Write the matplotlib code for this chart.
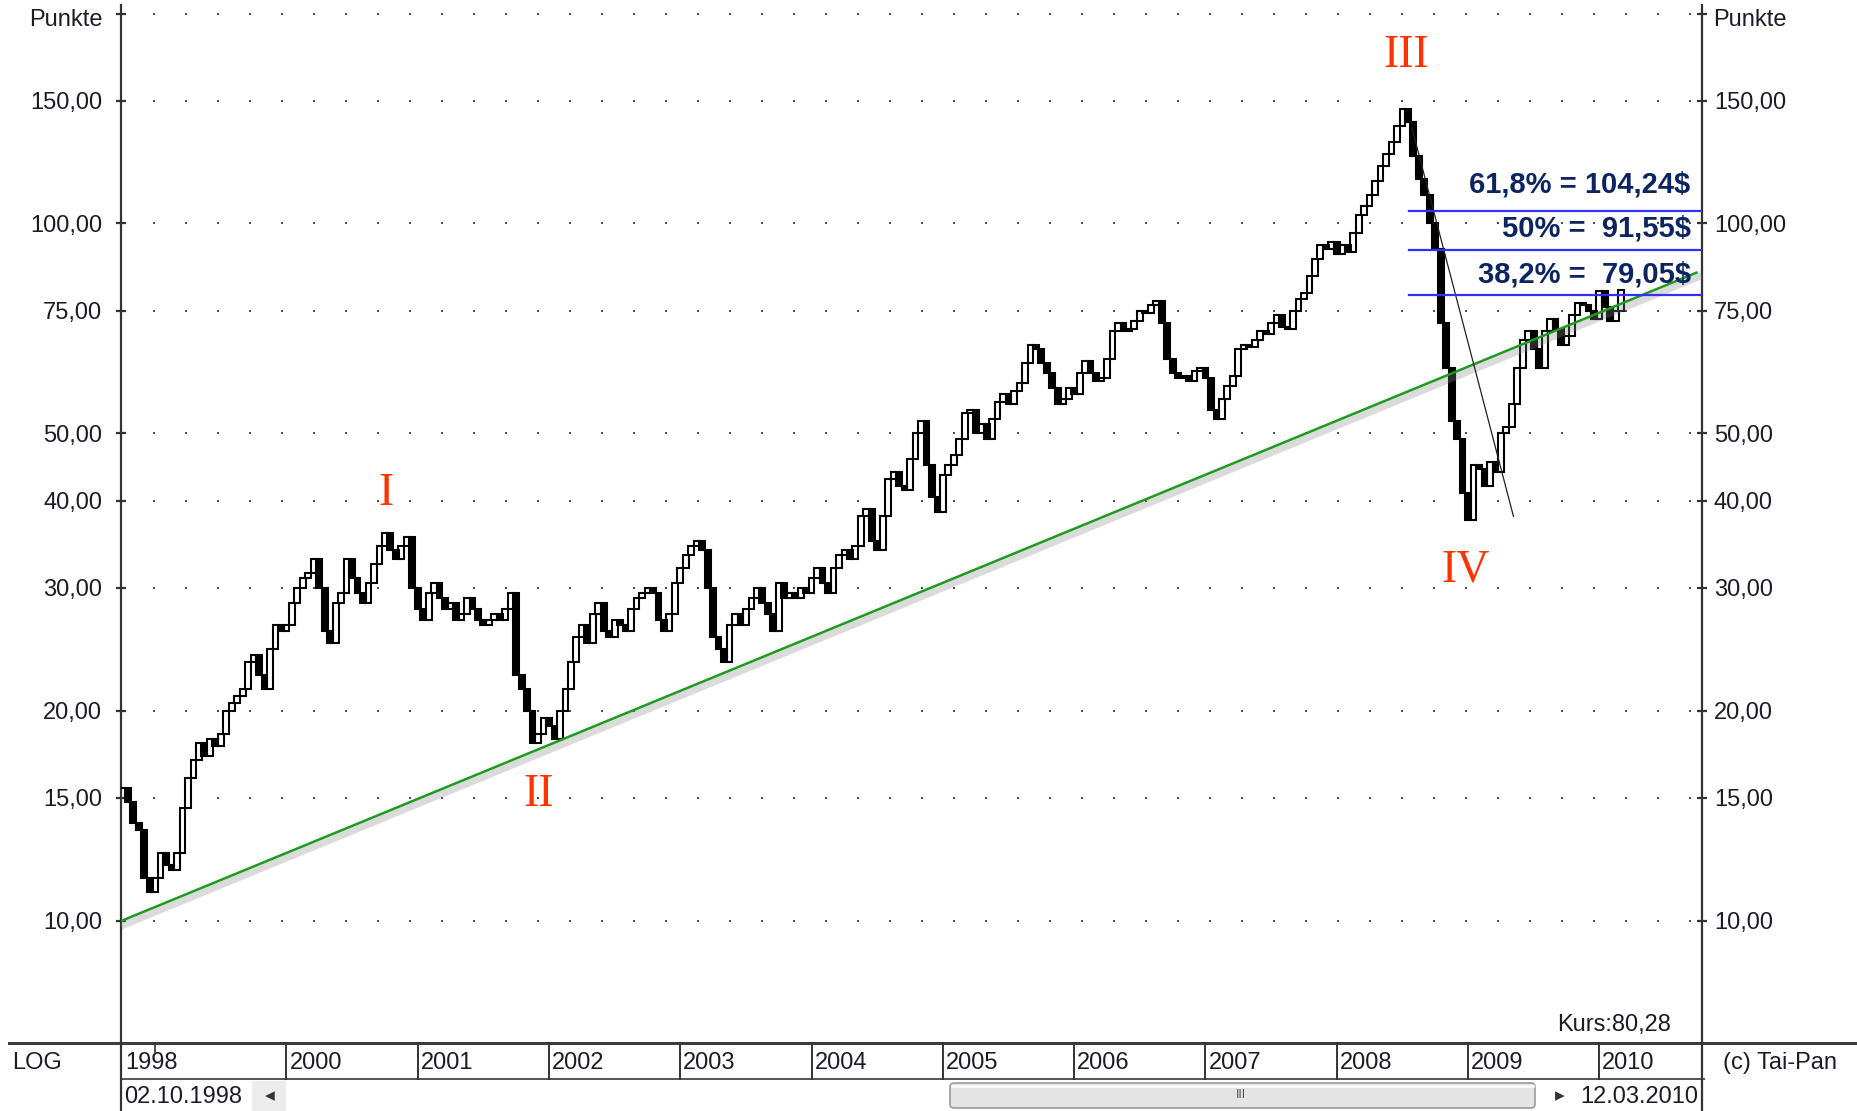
import numpy as np
import matplotlib
matplotlib.use('Agg')
import matplotlib.pyplot as plt
import matplotlib.patheffects as pe
from matplotlib import transforms
from matplotlib.patches import FancyBboxPatch, Rectangle
from matplotlib.ticker import NullLocator, NullFormatter

plt.rcParams['font.family'] = ['Liberation Sans', 'DejaVu Sans']
plt.rcParams['lines.scale_dashes'] = False

kurs_1998 = [15.5, 14.8, 13.8, 13.5, 11.5, 11.0]
kurs_1999 = [11.5, 12.5, 12.0, 11.8, 12.5, 14.5, 16.0, 17.0, 18.0, 17.2, 18.2, 17.8,
             18.5, 20.0, 20.5, 21.0, 21.5, 23.5, 24.0, 22.5, 21.5, 24.5, 26.5, 26.0]
kurs_2000 = [26.5, 28.5, 30.0, 31.0, 31.5, 33.0, 30.0, 26.0, 25.0, 28.5, 29.5, 33.0,
             31.0, 29.5, 28.5, 30.5, 32.5, 34.5, 36.0, 34.0, 33.0, 34.5, 35.5, 30.0]
kurs_2001 = [28.0, 27.0, 29.5, 30.5, 29.0, 28.0, 28.5, 27.0, 27.5, 29.0, 28.0, 27.0,
             26.5, 27.0, 27.5, 27.0, 28.0, 29.5, 22.5, 21.5, 20.0, 18.0, 18.5, 19.5]
kurs_2002 = [19.0, 18.2, 20.0, 21.5, 23.5, 25.5, 26.5, 25.0, 27.5, 28.5, 26.0, 25.5,
             27.0, 26.5, 26.0, 28.0, 29.0, 29.5, 30.0, 29.5, 27.0, 26.0, 27.5, 30.5]
kurs_2003 = [32.0, 33.5, 34.5, 35.0, 34.0, 30.0, 25.5, 24.5, 23.5, 26.5, 27.5, 26.5,
             28.0, 29.0, 30.0, 28.5, 27.5, 26.0, 30.5, 29.0, 29.5, 29.0, 30.0, 29.5]
kurs_2004 = [31.0, 32.0, 30.5, 29.5, 32.0, 33.5, 34.0, 33.0, 34.5, 38.0, 39.0, 35.0,
             34.0, 38.0, 43.0, 44.0, 42.0, 41.5, 46.0, 50.0, 52.0, 45.0, 40.5, 38.5]
kurs_2005 = [43.5, 45.0, 46.5, 49.0, 53.5, 54.0, 50.0, 51.5, 49.0, 52.5, 55.5, 57.0,
             55.0, 57.5, 59.0, 63.0, 67.0, 66.0, 63.0, 61.0, 58.0, 55.0, 56.0, 58.0]
kurs_2006 = [57.0, 61.0, 63.5, 61.0, 59.5, 60.0, 64.0, 70.0, 72.0, 70.0, 70.5, 72.5,
             75.0, 74.5, 76.5, 77.5, 72.0, 64.0, 61.0, 60.0, 60.5, 59.5, 61.5, 62.0]
kurs_2007 = [60.0, 54.0, 52.5, 56.0, 58.5, 60.5, 66.0, 67.0, 66.5, 68.0, 70.0, 69.5,
             72.0, 74.0, 71.0, 70.5, 75.0, 78.0, 79.5, 84.0, 89.0, 93.0, 92.0, 94.0]
kurs_2008 = [90.5, 93.0, 91.0, 97.0, 103.0, 106.0, 110.0, 115.0, 121.0, 126.0, 131.0, 138.0,
             146.0, 140.0, 125.0, 116.0, 110.0, 100.0, 92.0, 72.0, 62.0, 52.0, 49.0, 41.0]
kurs_2009 = [37.5, 45.0, 44.5, 42.0, 45.5, 44.0, 50.0, 51.0, 55.0, 62.0, 68.0, 70.0,
             66.0, 62.0, 70.0, 73.0, 70.5, 67.0, 69.0, 74.0, 77.0, 76.5, 75.0, 73.0]
kurs_2010 = [80.0, 76.0, 72.5, 75.0, 80.28]

start_jahr = 1998.75
y_ticks = [10, 15, 20, 30, 40, 50, 75, 100, 150, 200]
y_labels = ['10,00', '15,00', '20,00', '30,00', '40,00', '50,00', '75,00', '100,00', '150,00', '']

jahr_grenzen = [2000, 2001, 2002, 2003, 2004, 2005, 2006, 2007, 2008, 2009, 2010]
jahr_labels = ['1998', '2000', '2001', '2002', '2003', '2004', '2005', '2006', '2007', '2008', '2009', '2010']
jahr_label_pos = [1998.75] + jahr_grenzen

# Trendlinien / Fibonacci
trend_x = [1998.75, 2010.74]
trend_y = [10.0, 85.0]
abw_x = [2008.573, 2009.346]
abw_y = [137.0, 38.0]
fib_werte = [104.24, 91.55, 79.05]
fib_texte = ['61,8% = 104,24$', '50% =  91,55$', '38,2% =  79,05$']
fib_text_y = [110.8, 95.7, 82.4]
fib_start = 2008.547
wellen = ['I', 'II', 'III', 'IV']
wellen_x = [2000.76, 2001.92, 2008.53, 2008.98]
wellen_y = [40.9, 15.15, 174.2, 31.8]

closes = np.array(kurs_1998 + kurs_1999 + kurs_2000 + kurs_2001 + kurs_2002 + kurs_2003 +
                  kurs_2004 + kurs_2005 + kurs_2006 + kurs_2007 + kurs_2008 + kurs_2009 + kurs_2010)
opens = np.concatenate([[closes[0]], closes[:-1]])
x = start_jahr + np.arange(len(closes)) / 24.0

W, H = 1857, 1111
fig = plt.figure(figsize=(W / 100, H / 100), dpi=100)
fig.patch.set_facecolor('white')

ax = fig.add_axes([121 / W, 1 - 1043 / H, (1702 - 121) / W, (1043 - 5) / H])
ax.set_yscale('log')
ax.set_ylim(6.672, 205.8)
ax.set_xlim(1998.74, 2010.782)

# Kerzen
bw = 0.044
up = closes >= opens
ax.bar(x[up], (closes - opens)[up], bottom=opens[up], width=bw, facecolor='white',
       edgecolor='black', linewidth=1.5, zorder=3)
ax.bar(x[~up], (opens - closes)[~up], bottom=closes[~up], width=bw, facecolor='black',
       edgecolor='black', linewidth=1.5, zorder=3)

# gepunktetes Raster
for v in y_ticks:
    ax.axhline(v, color='#444444', lw=1.4, linestyle=(0, (1.4, 21.64)), zorder=1)

# Trendlinie mit Schatten
ax.plot(trend_x, trend_y, color='#1e9a1e', lw=1.8, zorder=4,
        path_effects=[pe.SimpleLineShadow(offset=(1.5, -3), shadow_color='#888888', alpha=0.3, linewidth=5),
                      pe.Normal()])
ax.plot(abw_x, abw_y, color='#222222', lw=0.9, zorder=4)

for v, t, ty in zip(fib_werte, fib_texte, fib_text_y):
    ax.plot([fib_start, ax.get_xlim()[1]], [v, v], color='#3030ff', lw=1.6, zorder=4)
    ax.text(2010.695, ty, t, ha='right', va='baseline', fontsize=21, fontweight='bold',
            color='#0c2462', zorder=6)

for t, wx, wy in zip(wellen, wellen_x, wellen_y):
    ax.text(wx, wy, t, ha='center', va='center', fontsize=33, color='#ff3300',
            family='Liberation Serif', zorder=6)

# Achsen
for s in ['top', 'bottom']:
    ax.spines[s].set_visible(False)
for s in ['left', 'right']:
    ax.spines[s].set_color('#333333')
    ax.spines[s].set_linewidth(1.6)
ax.set_xticks([])
ax.yaxis.set_minor_locator(NullLocator())
ax.yaxis.set_minor_formatter(NullFormatter())
ax.set_yticks(y_ticks)
ax.set_yticklabels(y_labels)
ax.tick_params(axis='y', direction='inout', length=7, width=1.6, color='#333333',
               labelsize=17, labelcolor='#1c1c28', pad=10)

ax2 = ax.twinx()
ax2.set_yscale('log')
ax2.set_ylim(ax.get_ylim())
ax2.yaxis.set_minor_locator(NullLocator())
ax2.yaxis.set_minor_formatter(NullFormatter())
ax2.set_yticks(y_ticks)
ax2.set_yticklabels(y_labels)
ax2.tick_params(axis='y', direction='inout', length=7, width=1.6, color='#333333',
                labelsize=17, labelcolor='#1c1c28', pad=5)
for s in ['top', 'bottom', 'left', 'right']:
    ax2.spines[s].set_visible(False)

# Fußleiste (Pixelkoordinaten)
ui = fig.add_axes([0, 0, 1, 1], zorder=10)
ui.set_xlim(0, W)
ui.set_ylim(H, 0)
ui.axis('off')

ui.text(103, 20, 'Punkte', ha='right', va='center', fontsize=17, color='#1c1c28')
ui.text(1713, 20, 'Punkte', ha='left', va='center', fontsize=17, color='#1c1c28')

ui.plot([9, W], [1043, 1043], color='#3c3c3c', lw=2.2)
ui.plot([121, 1704], [1079, 1079], color='#555555', lw=1.4)
ui.plot([121, 121], [1043, H], color='#333333', lw=1.6)
ui.plot([1702, 1702], [1043, H], color='#333333', lw=1.6)

blend = transforms.blended_transform_factory(ax.transData, ui.transData)
for j in jahr_grenzen:
    ui.plot([j, j], [1043, 1079], color='#333333', lw=1.4, transform=blend)
ui.plot([1999, 1999], [1043, 1052], color='#333333', lw=1.2, transform=blend)
lab_tr = transforms.offset_copy(blend, fig=fig, x=3, y=0, units='dots')
for p, t in zip(jahr_label_pos, jahr_labels):
    ui.text(p, 1063, t, ha='left', va='center', fontsize=17, color='#1c1c28', transform=lab_tr)

ui.text(12, 1063, 'LOG', ha='left', va='center', fontsize=17, color='#1c1c28')
ui.text(1723, 1063, '(c) Tai-Pan', ha='left', va='center', fontsize=17, color='#1c1c28')
ui.text(1671, 1025, 'Kurs:80,28', ha='right', va='center', fontsize=17, color='#1c1c28')
ui.text(124, 1097, '02.10.1998', ha='left', va='center', fontsize=17, color='#1c1c28')
ui.text(1698, 1097, '12.03.2010', ha='right', va='center', fontsize=17, color='#1c1c28')

ui.add_patch(Rectangle((252, 1081), 34, 30, facecolor='#ececec', edgecolor='none'))
ui.text(270, 1096, '\u25c2', ha='center', va='center', fontsize=14, color='#333333', family='DejaVu Sans')
ui.add_patch(FancyBboxPatch((950, 1083), 585, 25, boxstyle='round,pad=0,rounding_size=4',
                            facecolor='#e4e4e4', edgecolor='#9a9a9a', lw=1.2))
ui.plot([952, 1533], [1086, 1086], color='#f8f8f8', lw=2)
ui.text(1241, 1095, 'III', ha='center', va='center', fontsize=9, color='#555555')
ui.text(1560, 1096, '\u25b8', ha='center', va='center', fontsize=14, color='#333333', family='DejaVu Sans')

fig.savefig('out.png', dpi=100, facecolor='white')
